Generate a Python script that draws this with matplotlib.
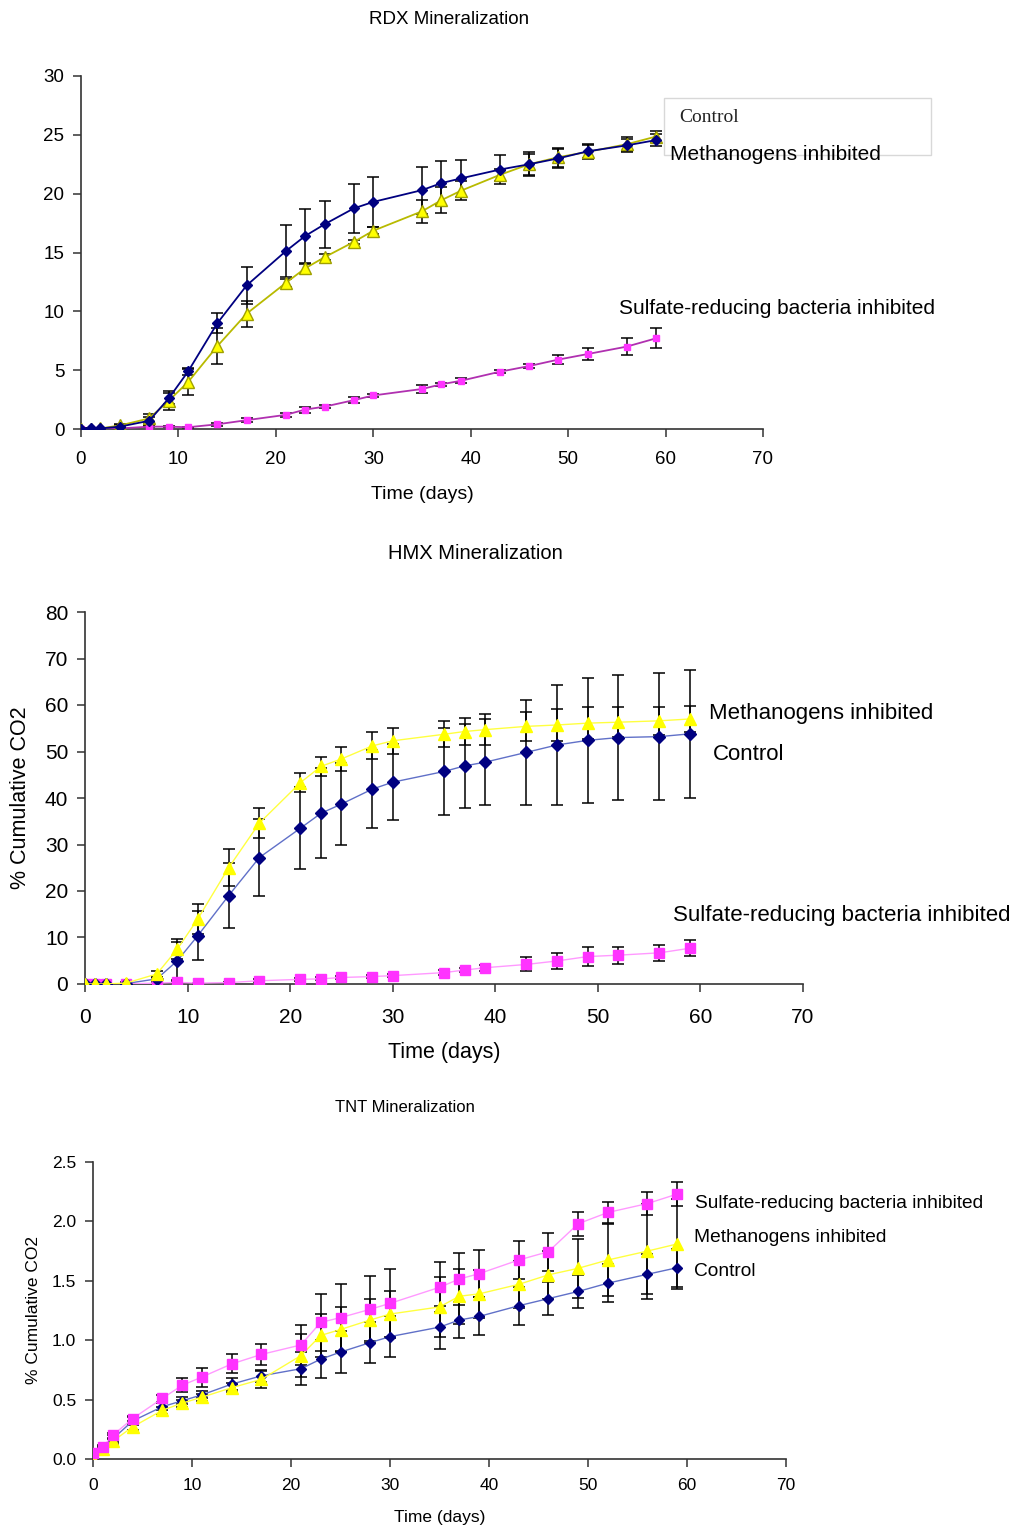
import numpy as np
import matplotlib.pyplot as plt
from matplotlib.patches import Rectangle

plt.rcParams['font.family'] = ['Liberation Sans', 'DejaVu Sans']

# sampling days (same for all three experiments)
days = [0, 1, 2, 4, 7, 9, 11, 14, 17, 21, 23, 25, 28, 30, 35, 37, 39, 43, 46, 49, 52, 56, 59]

# RDX
rdx_control = [0, 0.05, 0.05, 0.2, 0.7, 2.6, 4.9, 9.0, 12.2, 15.1, 16.4, 17.4, 18.75, 19.3,
               20.3, 20.9, 21.3, 22.05, 22.5, 23.0, 23.6, 24.1, 24.55]
rdx_control_err = [0, 0, 0, 0.1, 0.35, 0.5, 0.3, 0.85, 1.6, 2.2, 2.3, 2.0, 2.1, 2.1,
                   2.0, 1.9, 1.6, 1.25, 1.0, 0.8, 0.6, 0.55, 0.5]
rdx_meth = [0, 0, 0.05, 0.3, 0.9, 2.4, 4.0, 7.05, 9.8, 12.4, 13.65, 14.6, 15.9, 16.85,
            18.5, 19.45, 20.25, 21.6, 22.5, 23.1, 23.55, 24.2, 24.85]
rdx_meth_err = [0, 0, 0, 0.1, 0.35, 0.8, 1.1, 1.5, 1.1, 0.35, 0.4, 0.25, 0.2, 0.3,
                1.0, 1.1, 0.8, 0.5, 0.9, 0.8, 0.6, 0.6, 0.5]
rdx_sulfate = [0, 0, 0, 0.05, 0.2, 0.2, 0.15, 0.4, 0.75, 1.2, 1.65, 1.9, 2.45, 2.85,
               3.4, 3.8, 4.1, 4.87, 5.35, 5.9, 6.37, 7.0, 7.7]
rdx_sulfate_err = [0, 0, 0, 0, 0.05, 0.05, 0.05, 0.15, 0.15, 0.2, 0.25, 0.15, 0.25, 0.15,
                   0.3, 0.15, 0.2, 0.15, 0.2, 0.4, 0.5, 0.7, 0.85]

# HMX
hmx_control = [0, 0, 0, 0.1, 1.1, 5.0, 10.4, 19.0, 27.2, 33.5, 36.7, 38.7, 41.9, 43.4,
               45.7, 46.9, 47.7, 49.8, 51.4, 52.4, 53.0, 53.2, 53.8]
hmx_control_err = [0, 0, 0, 0.2, 0.5, 4.1, 5.2, 7.0, 8.3, 8.8, 9.7, 8.8, 8.4, 8.2,
                   9.3, 9.1, 9.3, 11.3, 13.0, 13.5, 13.5, 13.6, 13.8]
hmx_meth = [0, 0, 0, 0.2, 2.15, 7.5, 14.0, 25.0, 34.6, 43.3, 46.8, 48.4, 51.2, 52.3,
            53.7, 54.3, 54.7, 55.4, 55.7, 56.1, 56.3, 56.6, 57.0]
hmx_meth_err = [0, 0, 0, 0.2, 0.6, 2.2, 3.2, 4.0, 3.2, 2.0, 2.1, 2.6, 2.9, 2.8,
                2.8, 3.0, 3.3, 3.2, 3.4, 3.4, 3.2, 3.0, 2.8]
hmx_sulfate = [0, 0, 0, 0, 0.2, 0.35, 0.2, 0.3, 0.7, 1.0, 1.1, 1.4, 1.6, 1.8,
               2.45, 3.0, 3.5, 4.2, 4.95, 5.9, 6.2, 6.7, 7.7]
hmx_sulfate_err = [0, 0, 0, 0, 0.1, 0.2, 0.1, 0.2, 0.3, 0.3, 0.3, 0.4, 0.4, 0.4,
                   0.5, 0.5, 0.6, 1.5, 1.8, 2.0, 1.8, 1.7, 1.7]

# TNT
tnt_control = [0.02, 0.09, 0.17, 0.32, 0.44, 0.49, 0.54, 0.63, 0.70, 0.76, 0.84, 0.90, 0.98, 1.03,
               1.11, 1.17, 1.20, 1.29, 1.35, 1.41, 1.48, 1.555, 1.61]
tnt_control_err = [0.01, 0.02, 0.03, 0.03, 0.03, 0.03, 0.03, 0.05, 0.05, 0.14, 0.16, 0.18, 0.17, 0.17,
                   0.18, 0.15, 0.16, 0.16, 0.14, 0.14, 0.16, 0.17, 0.16]
tnt_meth = [0.0, 0.08, 0.15, 0.27, 0.41, 0.47, 0.52, 0.60, 0.67, 0.87, 1.04, 1.09, 1.17, 1.22,
            1.28, 1.37, 1.39, 1.47, 1.55, 1.605, 1.675, 1.75, 1.81]
tnt_meth_err = [0.01, 0.02, 0.02, 0.03, 0.03, 0.03, 0.03, 0.04, 0.07, 0.18, 0.18, 0.19, 0.18, 0.19,
                0.25, 0.23, 0.2, 0.2, 0.2, 0.25, 0.3, 0.4, 0.38]
tnt_sulfate = [0.05, 0.10, 0.20, 0.34, 0.51, 0.62, 0.69, 0.80, 0.88, 0.96, 1.15, 1.19, 1.26, 1.31,
               1.445, 1.515, 1.56, 1.675, 1.745, 1.98, 2.075, 2.15, 2.23]
tnt_sulfate_err = [0.01, 0.02, 0.02, 0.02, 0.03, 0.06, 0.08, 0.08, 0.09, 0.17, 0.24, 0.28, 0.28, 0.29,
                   0.21, 0.22, 0.2, 0.16, 0.16, 0.1, 0.09, 0.1, 0.1]

W, H = 1016, 1529
fig = plt.figure(figsize=(W / 100, H / 100), dpi=100)


def px_axes(left, top, right, bottom):
    # axes placed by pixel box of the reference
    return fig.add_axes([left / W, 1 - bottom / H, (right - left) / W, (bottom - top) / H])


def ftext(x, y, s, **kw):
    fig.text(x / W, 1 - y / H, s, va='center', **kw)


def series(ax, y, err, line_c, mark_c, marker, ms, lw):
    ax.errorbar(days, y, yerr=err, fmt='none', ecolor='black', elinewidth=1.1,
                capsize=4.5, capthick=1.1, zorder=2)
    ax.plot(days, y, color=line_c, lw=lw, marker=marker, ms=ms,
            markerfacecolor=mark_c, markeredgecolor=mark_c, zorder=3)


def style(ax, ymax, ystep, fs, pad, fmt=None):
    ax.set_xlim(0, 70)
    ax.set_ylim(0, ymax)
    ax.set_xticks(range(0, 71, 10))
    yt = np.arange(0, ymax + ystep / 2, ystep)
    ax.set_yticks(yt)
    if fmt:
        ax.set_yticklabels([fmt.format(v) for v in yt])
    for s in ['top', 'right']:
        ax.spines[s].set_visible(False)
    for s in ['left', 'bottom']:
        ax.spines[s].set_color('#333333')
        ax.spines[s].set_linewidth(1.2)
    ax.tick_params(direction='out', length=6, width=1.1, labelsize=fs, colors='#333333',
                   labelcolor='black')
    ax.tick_params(axis='x', pad=pad)
    ax.tick_params(axis='y', pad=6)
    ax.patch.set_alpha(0)


# RDX panel
ax1 = px_axes(81, 76, 763, 429)
series(ax1, rdx_sulfate, rdx_sulfate_err, '#B030B0', '#FF33FF', 's', 5, 1.3)
series(ax1, rdx_meth, rdx_meth_err, '#B8BA00', '#FFFF00', '^', 8.5, 1.3)
series(ax1, rdx_control, rdx_control_err, '#000080', '#000080', 'D', 5.5, 1.3)
for l in ax1.lines:
    if l.get_marker() == '^':
        l.set_markeredgecolor('#A0A000')
style(ax1, 30, 5, 13.5, 10)
ax1.set_xlabel('Time (days)', fontsize=14, labelpad=13)
ftext(449, 20, 'RDX Mineralization', ha='center', fontsize=13.5)
fig.patches.append(Rectangle((664 / W, 1 - 155 / H), 267 / W, 57 / H, transform=fig.transFigure,
                             fill=False, edgecolor='#d8d8d8', lw=1))
ftext(679, 118, 'Control', fontsize=14, family=['Liberation Serif'], color='#222222')
ftext(670, 155, 'Methanogens inhibited', fontsize=15)
ftext(619, 308, 'Sulfate-reducing bacteria inhibited', fontsize=15)

# HMX panel
ax2 = px_axes(85, 612, 803, 984)
series(ax2, hmx_sulfate, hmx_sulfate_err, '#FF99FF', '#FF33FF', 's', 6.5, 1.0)
series(ax2, hmx_control, hmx_control_err, '#6070C8', '#000080', 'D', 6, 1.0)
series(ax2, hmx_meth, hmx_meth_err, '#FFFF40', '#FFFF00', '^', 9, 1.0)
style(ax2, 80, 10, 15, 11)
ax2.set_xlabel('Time (days)', fontsize=15.5, labelpad=11)
ax2.set_ylabel('% Cumulative CO2', fontsize=15.5, labelpad=10)
ftext(475, 553, 'HMX Mineralization', ha='center', fontsize=14.5)
ftext(709, 714, 'Methanogens inhibited', fontsize=16)
ftext(713, 754, 'Control', fontsize=16)
ftext(673, 915, 'Sulfate-reducing bacteria inhibited', fontsize=16)

# TNT panel
ax3 = px_axes(93, 1162, 786, 1459)
series(ax3, tnt_control, tnt_control_err, '#6070C8', '#000080', 'D', 5.5, 1.0)
series(ax3, tnt_meth, tnt_meth_err, '#FFFF40', '#FFFF00', '^', 8.5, 1.0)
series(ax3, tnt_sulfate, tnt_sulfate_err, '#FF99FF', '#FF33FF', 's', 6.5, 1.0)
style(ax3, 2.5, 0.5, 12.5, 8, fmt='{:.1f}')
ax3.set_xlabel('Time (days)', fontsize=12.5, labelpad=12)
ax3.set_ylabel('% Cumulative CO2', fontsize=12.5, labelpad=8)
ftext(405, 1107, 'TNT Mineralization', ha='center', fontsize=12,
      family=['Liberation Sans Narrow', 'Liberation Sans'])
ftext(695, 1204, 'Sulfate-reducing bacteria inhibited', fontsize=13.8)
ftext(694, 1237, 'Methanogens inhibited', fontsize=13.8)
ftext(694, 1272, 'Control', fontsize=13.8)

plt.savefig('out.png', dpi=100)
